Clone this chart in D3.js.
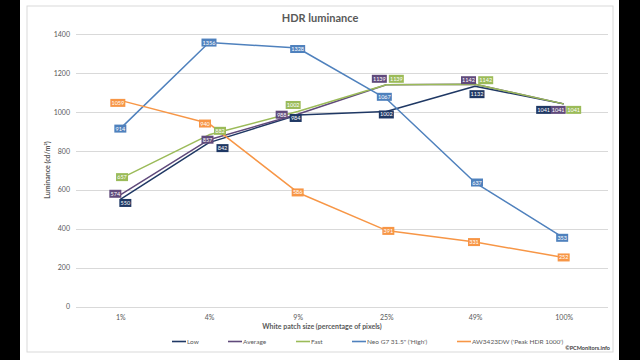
<!DOCTYPE html>
<html><head><meta charset="utf-8">
<script src="https://cdn.jsdelivr.net/npm/d3@7"></script>
<style>
html,body{margin:0;padding:0;background:#000;}
svg{display:block;}
text{font-family:Lato,"Open Sans",sans-serif;}
</style></head>
<body>
<svg id="c" width="640" height="360"></svg>
<script>
const categories = ["1%","4%","9%","25%","49%","100%"];
const yTicks = [0,200,400,600,800,1000,1200,1400];
const seriesNames = ["Low","Average","Fast","Neo G7  31.5\" ('High')","AW3423DW ('Peak HDR 1000')"];
const lowValues = [550,842,984,1002,1132,1041];
const averageValues = [574,857,988,1139,1142,1041];
const fastValues = [657,882,1002,1139,1142,1041];
const neoValues = [914,1356,1328,1067,637,353];
const awValues = [1059,940,586,391,331,252];

const colors = ["#1f3864","#604a7b","#9bbb59","#4f81bd","#f79646"];
// label offsets (pixels) from each point, per series
const labelOffsets = [
  [[5,3.5],[13.5,5.5],[-2,3],[0,3],[2,8],[-20,6]],
  [[-5,-1],[-1.5,0],[-16,0.5],[-7,-6],[-6.5,-4],[-5.5,6]],
  [[1.7,-1.5],[11,-4],[-4.5,-6.5],[10,-6],[10.7,-4],[10,6]],
  [[0,0],[0,0],[0,1],[-2,-2],[2,0],[-1.5,0]],
  [[-2.5,2.5],[-4,0],[0,0],[2,0.5],[-1,0],[0,0]]
];

const seriesValues = [lowValues,averageValues,fastValues,neoValues,awValues];
const svg = d3.select("#c");

svg.append("rect").attr("x",20).attr("y",0).attr("width",599).attr("height",360).attr("fill","#fff");
svg.append("rect").attr("x",27).attr("y",6).attr("width",586).attr("height",346)
  .attr("fill","#fff").attr("stroke","#d9d9d9").attr("stroke-width",1);

const x = d3.scalePoint().domain(categories).range([76,608]).padding(0.5);
const y = d3.scaleLinear().domain([0,1400]).range([306.5,34]);

// gridlines
svg.append("g").selectAll("line").data(yTicks).join("line")
  .attr("x1",76).attr("x2",608)
  .attr("y1",d=>Math.round(y(d))+0.5).attr("y2",d=>Math.round(y(d))+0.5)
  .attr("stroke","#d9d9d9").attr("stroke-width",1);

// y axis labels
const yAxis = d3.axisLeft(y).tickValues(yTicks).tickFormat(d3.format("d")).tickSize(0).tickPadding(6);
const gy = svg.append("g").attr("transform","translate(76,0)").call(yAxis);
gy.select(".domain").remove();
gy.selectAll("text").attr("font-size",7).attr("fill","#595959");

// x axis labels
const xAxis = d3.axisBottom(x).tickSize(0).tickPadding(5);
const gx = svg.append("g").attr("transform","translate(0,310)").call(xAxis);
gx.select(".domain").remove();
gx.selectAll("text").attr("font-size",7).attr("fill","#595959");

// title
svg.append("text").attr("x",320).attr("y",22).attr("text-anchor","middle")
  .attr("font-size",11).attr("font-weight","bold").attr("fill","#595959").text("HDR luminance");
// axis titles
svg.append("text").attr("transform","translate(50,170) rotate(-90)").attr("text-anchor","middle")
  .attr("font-size",7).attr("font-weight","bold").attr("fill","#595959").text("Luminance (cd/m²)");
svg.append("text").attr("x",322).attr("y",329).attr("text-anchor","middle")
  .attr("font-size",7).attr("font-weight","bold").attr("fill","#595959").text("White patch size (percentage of pixels)");

// lines
const line = d3.line().x((d,i)=>x(categories[i])).y(d=>y(d));
seriesValues.forEach((vals,s)=>{
  svg.append("path").datum(vals).attr("d",line).attr("fill","none")
    .attr("stroke",colors[s]).attr("stroke-width",1.5).attr("stroke-linejoin","round");
});

// labels
seriesValues.forEach((vals,s)=>{
  const g = svg.append("g");
  vals.forEach((v,i)=>{
    const cx = x(categories[i]) + labelOffsets[s][i][0];
    const cy = y(v) + labelOffsets[s][i][1];
    const w = String(v).length===4 ? 15 : 12;
    g.append("rect").attr("x",cx-w/2).attr("y",cy-4).attr("width",w).attr("height",8).attr("fill",colors[s]);
    g.append("text").attr("x",cx).attr("y",cy+2).attr("text-anchor","middle")
      .attr("font-size",5.5).attr("fill","#fff").text(v);
  });
});

// legend
const legendX = [172,228,296,352,457];
seriesNames.forEach((n,s)=>{
  svg.append("line").attr("x1",legendX[s]).attr("x2",legendX[s]+14).attr("y1",341.5).attr("y2",341.5)
    .attr("stroke",colors[s]).attr("stroke-width",1.6);
  svg.append("text").attr("x",legendX[s]+15).attr("y",344).attr("font-size",6.5).attr("fill","#595959").text(n);
});

svg.append("text").attr("x",610).attr("y",350).attr("text-anchor","end")
  .attr("font-size",5.5).attr("font-weight","bold").attr("fill","#404040").text("©PCMonitors.info");
</script>
</body></html>
